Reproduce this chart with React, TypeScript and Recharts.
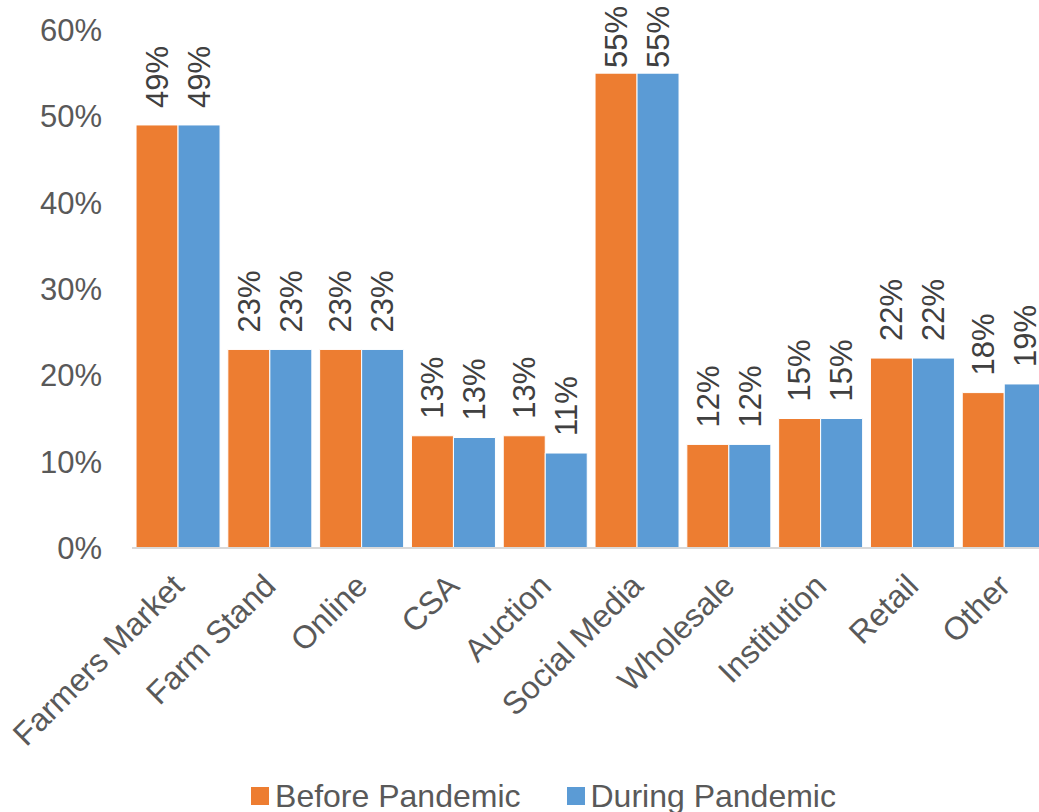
import { Bar, BarChart, LabelList, Legend, XAxis, YAxis } from 'recharts'

const categories = [
	'Farmers Market',
	'Farm Stand',
	'Online',
	'CSA',
	'Auction',
	'Social Media',
	'Wholesale',
	'Institution',
	'Retail',
	'Other',
]
const beforePandemic = [49, 23, 23, 13, 13, 55, 12, 15, 22, 18]
const duringPandemic = [49, 23, 23, 12.8, 11, 55, 12, 15, 22, 19]
const percentTicks = [0, 10, 20, 30, 40, 50, 60]
const seriesNames = ['Before Pandemic', 'During Pandemic']

const ORANGE = '#ED7D31'
const BLUE = '#5B9BD5'
const FONT = '"Liberation Sans", Arial, sans-serif'

const data = categories.map((name, i) => ({
	name,
	before: beforePandemic[i],
	during: duringPandemic[i],
}))

function YTick({ x, y, payload }: any) {
	return (
		<text x={x} y={y} dy='0.35em' textAnchor='end' fontSize={31} fill='#595959' fontFamily={FONT}>
			{payload.value}%
		</text>
	)
}

function XTick({ x, y, payload }: any) {
	return (
		<text
			x={x}
			y={y}
			dy='0.35em'
			textAnchor='end'
			fontSize={32}
			fill='#595959'
			fontFamily={FONT}
			transform={`rotate(-45, ${x}, ${y})`}
		>
			{payload.value}
		</text>
	)
}

// rotated value labels sit above the bar, but never run off the top of the chart
function ValueLabel({ x, y, width, value }: any) {
	const cx = Number(x) + Number(width) / 2
	const ty = Math.max(Number(y) - 17, 68)
	return (
		<text
			x={cx}
			y={ty}
			dy='0.35em'
			textAnchor='start'
			fontSize={31}
			fill='#404040'
			fontFamily={FONT}
			transform={`rotate(-90, ${cx}, ${ty})`}
		>
			{Math.round(Number(value))}%
		</text>
	)
}

function LegendBox() {
	const colors = [ORANGE, BLUE]
	return (
		<div
			style={{
				display: 'flex',
				justifyContent: 'center',
				alignItems: 'center',
				height: 44,
				gap: 46,
				fontFamily: FONT,
				fontSize: 32,
				color: '#595959',
			}}
		>
			{seriesNames.map((n, i) => (
				<div key={n} style={{ display: 'flex', alignItems: 'center', gap: 6 }}>
					<span style={{ width: 18, height: 18, background: colors[i], display: 'inline-block' }} />
					<span>{n}</span>
				</div>
			))}
		</div>
	)
}

export default function App() {
	return (
		<div
			style={{
				position: 'absolute',
				left: 0,
				top: 0,
				width: 1039,
				height: 812,
				overflow: 'hidden',
				background: '#fff',
			}}
		>
			<BarChart
				width={1060}
				height={812}
				data={data}
				margin={{ top: 30, right: 10, bottom: 0, left: 0 }}
				barCategoryGap='4.4%'
				barGap={0}
			>
				<XAxis
					dataKey='name'
					interval={0}
					height={220}
					tickSize={0}
					tickMargin={32}
					tickLine={false}
					axisLine={{ stroke: '#D9D9D9', strokeWidth: 2 }}
					tick={<XTick />}
				/>
				<YAxis
					width={132}
					domain={[0, 60]}
					ticks={percentTicks}
					tickSize={0}
					tickMargin={30}
					tickLine={false}
					axisLine={false}
					tick={<YTick />}
				/>
				<Legend
					verticalAlign='bottom'
					content={<LegendBox />}
					wrapperStyle={{ left: 0, width: 1087, bottom: -6 }}
				/>
				<Bar dataKey='before' name={seriesNames[0]} fill={ORANGE} stroke='#fff' strokeWidth={1} isAnimationActive={false}>
					<LabelList dataKey='before' content={<ValueLabel />} />
				</Bar>
				<Bar dataKey='during' name={seriesNames[1]} fill={BLUE} stroke='#fff' strokeWidth={1} isAnimationActive={false}>
					<LabelList dataKey='during' content={<ValueLabel />} />
				</Bar>
			</BarChart>
		</div>
	)
}
